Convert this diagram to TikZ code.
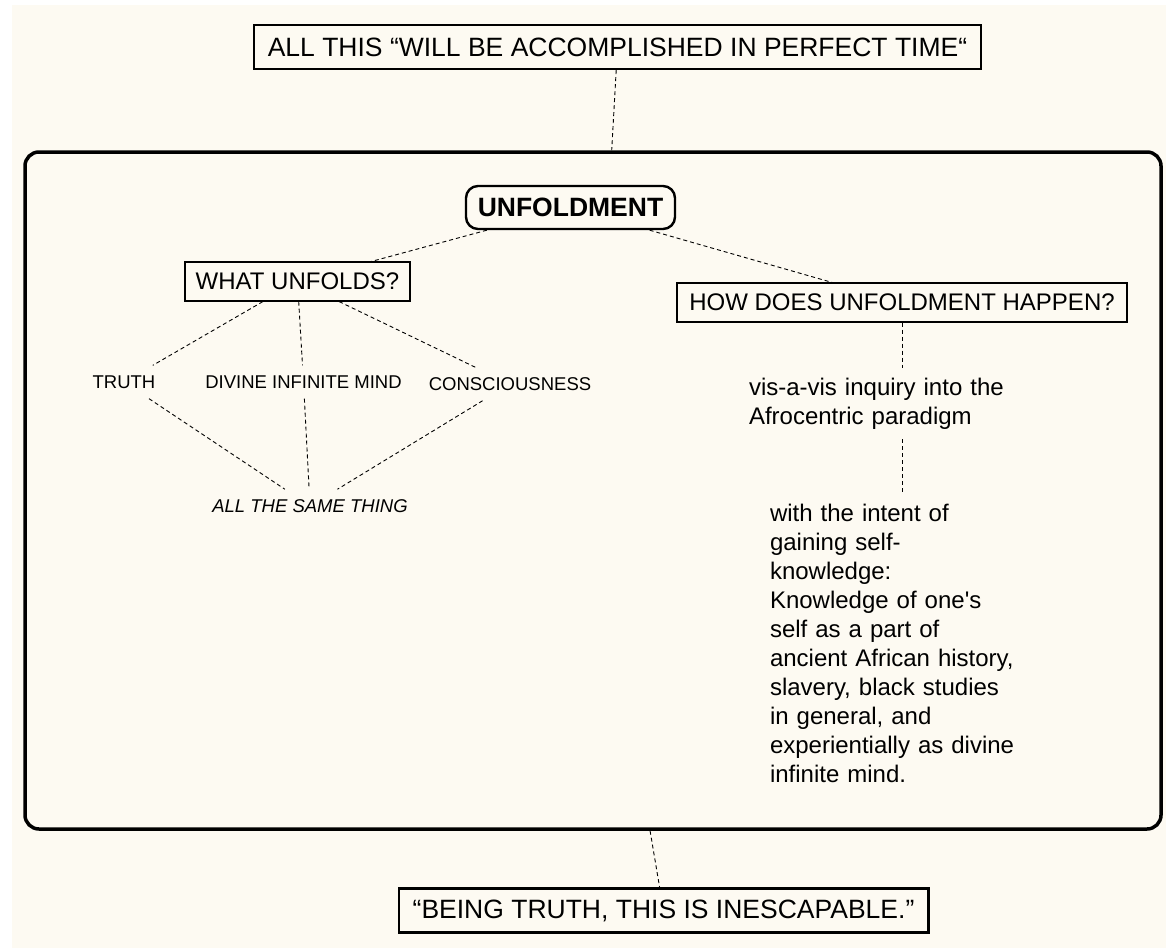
\documentclass[tikz,border=0pt]{standalone}
\usepackage{fontspec}
\setmainfont{Liberation Sans}
\usetikzlibrary{positioning}
\definecolor{paper}{HTML}{FDFAF2}

\begin{document}
\begin{tikzpicture}[
    x=1pt, y=-1pt,
    big/.style={font=\fontsize{26.5}{32}\selectfont},
    mid/.style={font=\fontsize{24}{29}\selectfont},
    small/.style={font=\fontsize{18.5}{22}\selectfont, inner sep=10pt},
    quote/.style={draw, line width=2.4pt, big, minimum height=44pt, inner xsep=14pt},
    question/.style={draw, line width=1.2pt, mid, minimum height=39pt, inner xsep=10pt},
    note/.style={mid, align=left, inner sep=10pt},
    link/.style={dash pattern=on 4pt off 3pt, line width=0.9pt}
]

    % Page
    \fill[white] (0,0) rectangle (1166,950);
    \fill[paper] (12,5) rectangle (1166,948);
    \useasboundingbox (0,0) rectangle (1166,950);

    % Outer statements
    \node[quote] (perfect) at (617.5,47) {ALL THIS “WILL BE ACCOMPLISHED IN PERFECT TIME“};
    \node[quote] (escape) at (663.5,910.5) {“BEING TRUTH, THIS IS INESCAPABLE.”};

    % Frame
    \node[draw, line width=3.5pt, rounded corners=14pt, minimum width=1136pt, minimum height=677pt] (frame) at (593,490.5) {};
    \draw[link] (perfect) -- (frame);
    \draw[link] (frame) -- (escape);

    % Main concept
    \node[draw, line width=2.4pt, rounded corners=12pt, font=\bfseries\fontsize{26.5}{32}\selectfont, minimum width=209pt, minimum height=43pt] (unfold) at (570.5,207.5) {UNFOLDMENT};

    % Questions
    \node[question, minimum width=225pt] (what) at (297.5,281.5) {WHAT UNFOLDS?};
    \node[question, minimum width=450pt] (how) at (902,302.5) {HOW DOES UNFOLDMENT HAPPEN?};
    \draw[link] (unfold) -- (what);
    \draw[link] (unfold) -- (how);

    % What unfolds
    \node[small] (truth) at (124,382) {TRUTH};
    \node[small] (divine) at (303.5,382) {DIVINE INFINITE MIND};
    \node[small] (consc) at (510,384) {CONSCIOUSNESS};
    \node[small, font=\itshape\fontsize{18.5}{22}\selectfont] (same) at (310,506) {ALL THE SAME THING};
    \foreach \n in {truth, divine, consc} {
        \draw[link] (what) -- (\n);
        \draw[link] (\n) -- (same);
    }

    % How it happens
    \node[note, text width=306pt, below=45pt of how] (vis) {vis-a-vis inquiry into the\\Afrocentric paradigm};
    \node[note, text width=264pt, below=55pt of vis] (intent) {with the intent of\\gaining self-\\knowledge:\\Knowledge of one\textquotesingle s\\self as a part of\\ancient African history,\\slavery, black studies\\in general, and\\experientially as divine\\infinite mind.};
    \draw[link] (how) -- (vis);
    \draw[link] (vis) -- (intent);

\end{tikzpicture}
\end{document}
